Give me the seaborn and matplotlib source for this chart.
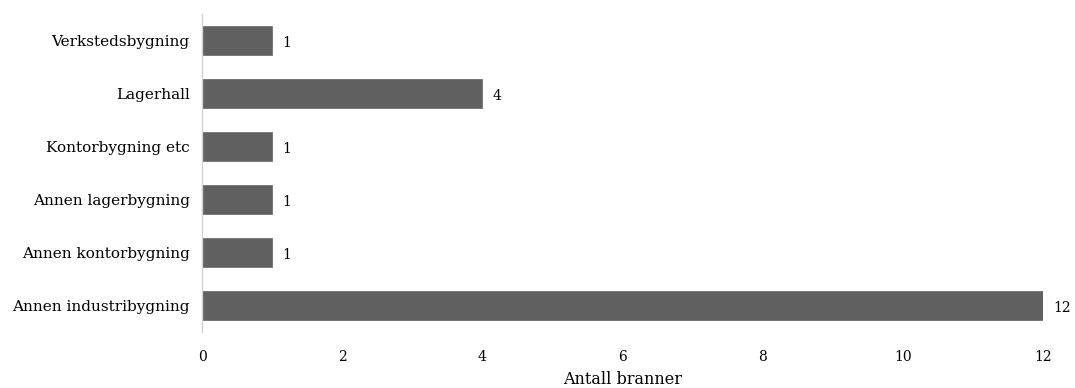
import matplotlib
matplotlib.use("Agg")
import matplotlib.pyplot as plt
import seaborn as sns
import pandas as pd

sns.set_style("white")
plt.rcParams['font.family'] = ['DejaVu Serif', 'Liberation Serif']
plt.rcParams['text.color'] = 'black'
plt.rcParams['axes.labelcolor'] = 'black'
plt.rcParams['xtick.color'] = 'black'
plt.rcParams['ytick.color'] = 'black'

categories = ['Verkstedsbygning', 'Lagerhall', 'Kontorbygning etc',
              'Annen lagerbygning', 'Annen kontorbygning', 'Annen industribygning']
values = [1, 4, 1, 1, 1, 12]

df = pd.DataFrame({'Bygning': categories, 'Antall': values})

fig, ax = plt.subplots(figsize=(10.75, 3.88), dpi=100)
fig.subplots_adjust(left=0.188, right=0.970, top=0.964, bottom=0.144)

sns.barplot(data=df, x='Antall', y='Bygning', color='#606060', width=0.56,
            saturation=1, ax=ax, orient='h', edgecolor='#707070', linewidth=0.6)

for i, v in enumerate(values):
    ax.text(v + 0.15, i + 0.04, str(v), va='center', ha='left', fontsize=10)

ax.set_xlim(0, 12)
ax.set_xticks(range(0, 13, 2))
ax.set_ylim(5.5, -0.5)
ax.set_xlabel('Antall branner', fontsize=11.5, labelpad=5)
ax.set_ylabel('')
ax.tick_params(axis='y', labelsize=11, length=0, pad=9)
ax.tick_params(axis='x', labelsize=10, length=0, pad=13)

for s in ['top', 'right', 'bottom']:
    ax.spines[s].set_visible(False)
ax.spines['left'].set_color('#d0d0d0')
ax.spines['left'].set_linewidth(1)

fig.savefig('out.png', dpi=100)
